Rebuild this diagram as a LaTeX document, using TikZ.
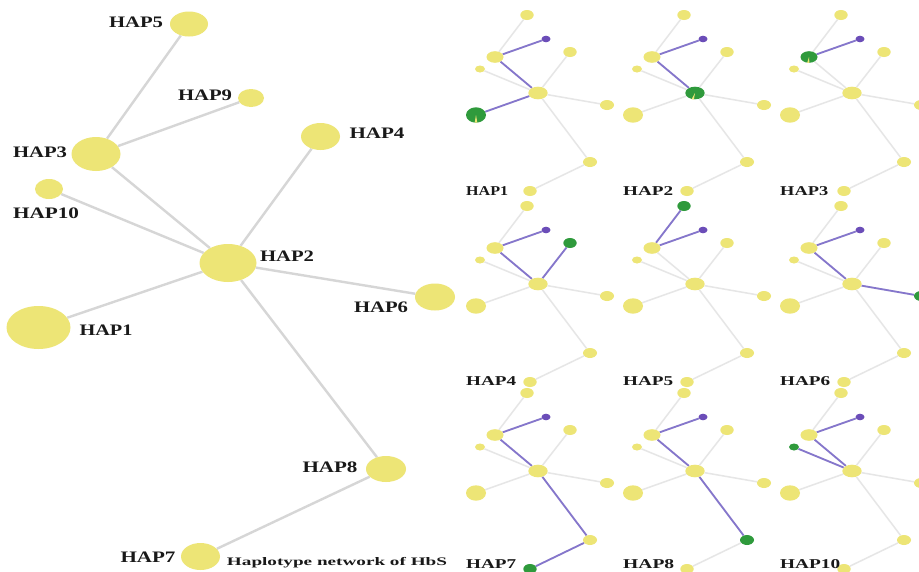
\documentclass[tikz,border=0pt]{standalone}
\usepackage{fontspec}
\setmainfont{Liberation Serif}
\usepackage{graphicx}
\usetikzlibrary{shapes.geometric}
\pgfdeclarelayer{back}
\pgfdeclarelayer{bg}
\pgfsetlayers{back,bg,main}
\definecolor{hy}{HTML}{EDE576}
\definecolor{hg}{HTML}{2F9A3C}
\definecolor{hp}{HTML}{6B4DB8}
\definecolor{hpe}{HTML}{8576CC}
\definecolor{he}{HTML}{D6D6D6}
\definecolor{hme}{HTML}{E6E6E6}
\def\greenid{0}
\tikzset{
  hap/.style={ellipse, fill=hy, inner sep=0pt},
  mk/.code={\ifnum#1=\greenid\relax\pgfkeysalso{fill=hg}\else\pgfkeysalso{fill=hy}\fi},
  mnode/.style={ellipse, inner sep=0pt, mk=#1},
  medge/.style={draw=he, line width=2.4pt},
  gedge/.style={draw=hme, line width=1.5pt},
  pedge/.style={draw=hpe, line width=1.8pt},
  mlab/.style={inner sep=0pt, text=black!90}
}
\newcommand\mtext[2]{\resizebox{#1}{\height}{\fontsize{16}{16}\selectfont\bfseries #2}}
\newcommand\minitext[2]{\resizebox{#1}{\height}{\fontsize{13.5}{13.5}\selectfont\bfseries #2}}
\newcommand\mininet[7]{%
\begin{scope}[shift={(#2,#3)}]
\node[mnode=5, minimum width=13.4pt, minimum height=10pt] (#1h5) at (-11,-78) {};
\node[ellipse, fill=hp, inner sep=0pt, minimum width=9pt, minimum height=6.6pt] (#1h9) at (8,-54) {};
\node[mnode=3, minimum width=17pt, minimum height=11.6pt] (#1h3) at (-43,-36) {};
\node[mnode=4, minimum width=13.4pt, minimum height=10pt] (#1h4) at (32,-41) {};
\node[mnode=10, minimum width=10pt, minimum height=7pt] (#1h10) at (-58,-24) {};
\node[mnode=2, minimum width=19.4pt, minimum height=12.6pt] (#1h2) at (0,0) {};
\node[mnode=6, minimum width=14pt, minimum height=10pt] (#1h6) at (69,12) {};
\node[mnode=1, minimum width=20pt, minimum height=15.4pt] (#1h1) at (-62,22) {};
\node[mnode=8, minimum width=14pt, minimum height=10pt] (#1h8) at (52,69) {};
\node[mnode=7, minimum width=13.4pt, minimum height=10pt] (#1h7) at (-8,98) {};
\node[mlab, anchor=west] (#1lab) at (-72,#7) {\minitext{#5}{#4}};
\end{scope}
\begin{pgfonlayer}{bg}
\draw[gedge] (#1h5)--(#1h3) (#1h9)--(#1h3) (#1h3)--(#1h2) (#1h10)--(#1h2) (#1h4)--(#1h2)
  (#1h1)--(#1h2) (#1h6)--(#1h2) (#1h8)--(#1h2) (#1h7)--(#1h8);
\foreach \a/\b in {#6} {\draw[pedge] (#1\a)--(#1\b);}
\end{pgfonlayer}
}
\begin{document}
\begin{tikzpicture}[x=1pt,y=-1pt]
\begin{pgfonlayer}{back}
\fill[white] (0,0) rectangle (919,571);
\end{pgfonlayer}
\useasboundingbox (0,0) rectangle (919,571);
% main network
\node[hap, minimum width=38pt, minimum height=25pt] (m5) at (189,24) {};
\node[hap, minimum width=26pt, minimum height=18pt] (m9) at (251,98) {};
\node[hap, minimum width=39pt, minimum height=27pt] (m4) at (320.5,136.5) {};
\node[hap, minimum width=49pt, minimum height=34pt] (m3) at (96,154) {};
\node[hap, minimum width=28pt, minimum height=20pt] (m10) at (49,189) {};
\node[hap, minimum width=57pt, minimum height=38pt] (m2) at (228,263) {};
\node[hap, minimum width=40pt, minimum height=27pt] (m6) at (435,297) {};
\node[hap, minimum width=64pt, minimum height=43pt] (m1) at (38.5,327.5) {};
\node[hap, minimum width=40pt, minimum height=26pt] (m8) at (386,469) {};
\node[hap, minimum width=39pt, minimum height=27pt] (m7) at (200.5,556.5) {};
\begin{pgfonlayer}{bg}
\draw[medge] (m5)--(m3) (m9)--(m3) (m3)--(m2) (m10)--(m2) (m4)--(m2)
  (m1)--(m2) (m6)--(m2) (m8)--(m2) (m7)--(m8);
\end{pgfonlayer}
\node[mlab] (l5) at (136,22) {\mtext{54pt}{HAP5}};
\node[mlab] (l9) at (205,95) {\mtext{54pt}{HAP9}};
\node[mlab] (l4) at (377,133) {\mtext{55pt}{HAP4}};
\node[mlab] (l3) at (40,152) {\mtext{54pt}{HAP3}};
\node[mlab] (l10) at (46,213) {\mtext{66pt}{HAP10}};
\node[mlab] (l2) at (287,256) {\mtext{54pt}{HAP2}};
\node[mlab] (l6) at (381,307) {\mtext{54pt}{HAP6}};
\node[mlab] (l1) at (106,330) {\mtext{53pt}{HAP1}};
\node[mlab] (l8) at (330,467) {\mtext{55pt}{HAP8}};
\node[mlab] (l7) at (148,557) {\mtext{55pt}{HAP7}};
\node[mlab] (cap) at (337,563) {\resizebox{220pt}{\height}{\fontsize{11.5}{11.5}\selectfont\bfseries Haplotype network of HbS}};
% mini networks
\def\greenid{1}\mininet{a}{538}{93}{HAP1}{42pt}{h1/h2,h2/h3,h3/h9}{98}
\fill[hy] (ah1.center) -- ++(-1.3,7.6) -- ++(2.6,0) -- cycle;
\def\greenid{2}\mininet{b}{695}{93}{HAP2}{50pt}{h2/h3,h3/h9}{98}
\fill[hy] (bh2.center) -- ++(-3.5,6.3) -- ++(2.4,0.2) -- cycle;
\def\greenid{3}\mininet{c}{852}{93}{HAP3}{48pt}{h3/h9}{98}
\fill[hy] (ch3.center) -- ++(-1.8,5.8) -- ++(2.2,0) -- cycle;
\def\greenid{4}\mininet{d}{538}{284}{HAP4}{50pt}{h4/h2,h2/h3,h3/h9}{97}
\def\greenid{5}\mininet{e}{695}{284}{HAP5}{50pt}{h5/h3,h3/h9}{97}
\def\greenid{6}\mininet{f}{852}{284}{HAP6}{50pt}{h6/h2,h2/h3,h3/h9}{97}
\def\greenid{7}\mininet{g}{538}{471}{HAP7}{50pt}{h7/h8,h8/h2,h2/h3,h3/h9}{93}
\def\greenid{8}\mininet{h}{695}{471}{HAP8}{51pt}{h8/h2,h2/h3,h3/h9}{93}
\def\greenid{10}\mininet{k}{852}{471}{HAP10}{60pt}{h10/h2,h2/h3,h3/h9}{93}
\end{tikzpicture}
\end{document}
